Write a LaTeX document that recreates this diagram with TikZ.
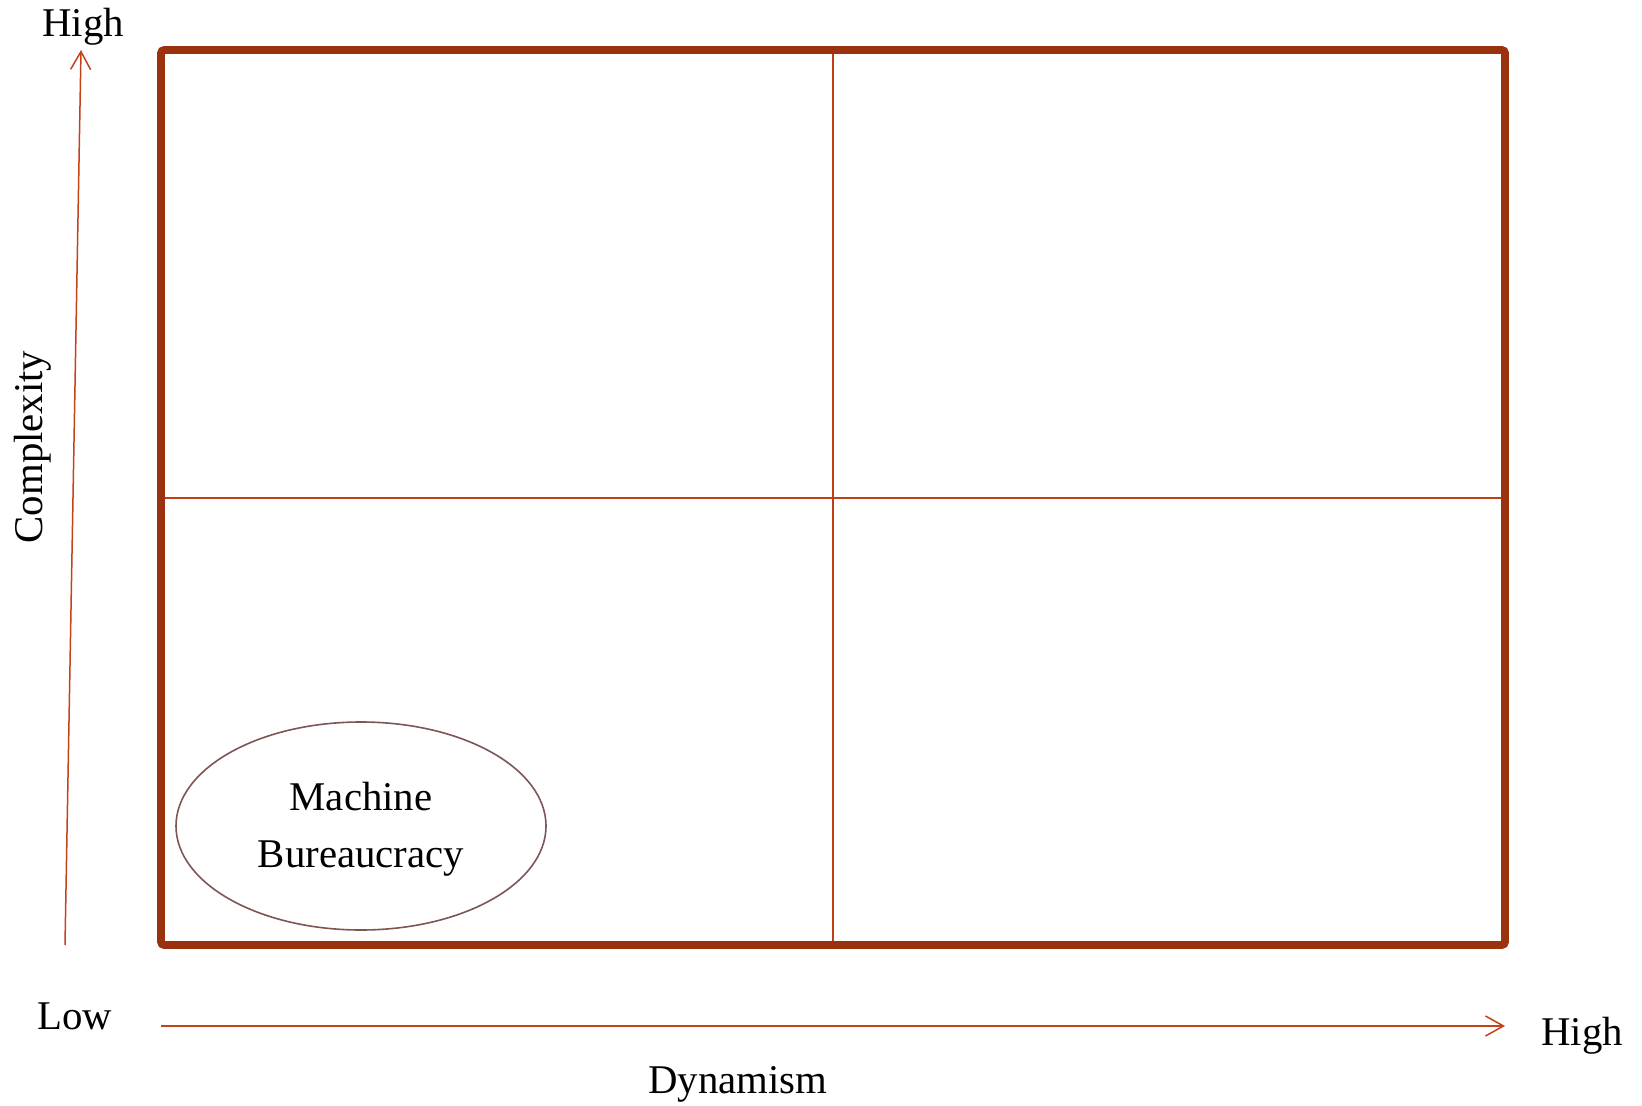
\documentclass[tikz,border=0pt]{standalone}
\usepackage{fontspec}
\setmainfont{Liberation Serif}
\usetikzlibrary{shapes.geometric,arrows.meta}
\definecolor{frame}{RGB}{154,50,16}
\definecolor{gridc}{RGB}{190,62,22}
\definecolor{axisc}{RGB}{196,66,24}
\definecolor{ellc}{RGB}{125,85,85}
\tikzset{
  lbl/.style={inner sep=0pt, font=\fontsize{20.4}{28.5}\selectfont},
  axis/.style={draw=axisc, line width=0.75pt, -{Straight Barb[length=9pt,width=10pt,line width=0.75pt]}},
  gridline/.style={draw=gridc, line width=1pt},
}
\begin{document}
\begin{tikzpicture}[x=0.5pt,y=-0.5pt]
\useasboundingbox (0,0) rectangle (1642,1106);
% quadrant grid
\coordinate (tl) at (161,50);
\coordinate (br) at (1505,945);
\coordinate (tm) at (833,50);
\coordinate (bm) at (833,945);
\coordinate (ml) at (161,498);
\coordinate (mr) at (1505,498);
\draw[gridline] (tm) -- (bm);
\draw[gridline] (ml) -- (mr);
\draw[draw=frame, line width=3.8pt, rounded corners=1.5pt] (tl) rectangle (br);
% ellipse
\node[draw=ellc, line width=0.8pt, ellipse, minimum width=185pt, minimum height=104pt, inner sep=0pt] (mb) at (361,826) {};
\node[lbl, anchor=base] (mb1) at (361,810) {Machine};
\node[lbl, anchor=base] (mb2) at (361,867) {Bureaucracy};
% axes
\coordinate (ys) at (65,945);
\coordinate (ye) at (81,50);
\draw[axis] (ys) -- (ye);
\coordinate (xs) at (161,1026);
\coordinate (xe) at (1505,1026);
\draw[axis] (xs) -- (xe);
% labels
\node[lbl, anchor=base west] (yhigh) at (42,37) {High};
\node[lbl, anchor=base west] (low) at (37,1029) {Low};
\node[lbl, anchor=base west] (xhigh) at (1541,1045) {High};
\node[lbl, anchor=base] (dyn) at (738,1093) {Dynamism};
\node[lbl, anchor=base, rotate=90] (cpx) at (42,447) {Complexity};
\end{tikzpicture}
\end{document}
